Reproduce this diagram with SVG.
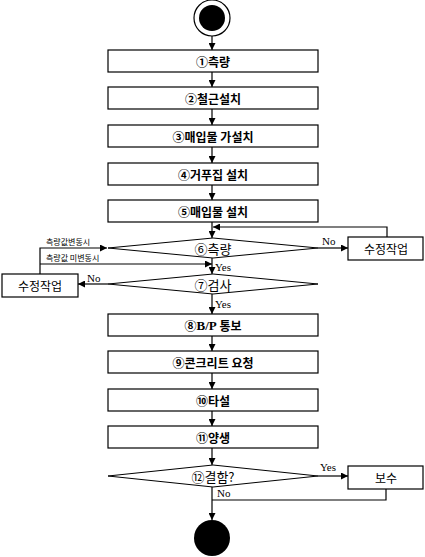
<svg xmlns="http://www.w3.org/2000/svg" width="425" height="557" viewBox="0 0 425 557">
<style>
.box{fill:#fff;stroke:#000;stroke-width:1.2}
.dia{fill:#fff;stroke:#000;stroke-width:1}
.t{font-family:"Noto Sans CJK KR","Noto Sans",sans-serif;font-size:12px;font-weight:bold;text-anchor:middle;dominant-baseline:central;fill:#000}
.td{font-family:"Noto Sans CJK KR","Noto Sans",sans-serif;font-size:13px;text-anchor:middle;dominant-baseline:central;fill:#000}
.ts{font-family:"Noto Sans CJK KR","Noto Sans",sans-serif;font-size:12px;text-anchor:middle;dominant-baseline:central;fill:#000}
.tl{font-family:"Noto Sans CJK KR","Noto Sans",sans-serif;font-size:8px;fill:#000}
.yn{font-family:"Liberation Serif","Times New Roman",serif;font-size:11px;fill:#000}
.ser{font-family:"Liberation Serif","Times New Roman",serif;font-size:13px}
.c{fill:none;stroke:#000;stroke-width:1.2}
</style>
<defs>
<marker id="ah" viewBox="0 0 10 10" refX="10" refY="5" markerWidth="7" markerHeight="7" markerUnits="userSpaceOnUse" orient="auto">
<path d="M0,0 L10,5 L0,10 z" fill="#000"/>
</marker>
</defs>
<g id="start"><circle cx="212" cy="18" r="18" fill="#fff" stroke="#000" stroke-width="1.2"/><circle cx="212" cy="18" r="13" fill="#000"/></g>
<g id="n1"><rect class="box" x="108" y="50" width="210" height="22"/><text class="t" x="213" y="61">①측량</text></g>
<g id="n2"><rect class="box" x="108" y="87" width="210" height="22"/><text class="t" x="213" y="98">②철근설치</text></g>
<g id="n3"><rect class="box" x="108" y="125" width="210" height="22"/><text class="t" x="213" y="136">③매입물 가설치</text></g>
<g id="n4"><rect class="box" x="108" y="163" width="210" height="22"/><text class="t" x="213" y="174">④거푸집 설치</text></g>
<g id="n5"><rect class="box" x="108" y="200" width="210" height="22"/><text class="t" x="213" y="211">⑤매입물 설치</text></g>
<g id="d6"><polygon class="dia" points="108,248 213,238 318,248 213,258"/><text class="td" x="213" y="248">⑥측량</text></g>
<g id="r1"><rect class="box" x="348" y="237" width="75" height="23"/><text class="ts" x="386" y="248.5">수정작업</text></g>
<g id="d7"><polygon class="dia" points="108,284 213,274 318,284 213,294"/><text class="td" x="213" y="284">⑦검사</text></g>
<g id="l1"><rect class="box" x="2" y="274" width="76" height="23"/><text class="ts" x="40" y="285.5">수정작업</text></g>
<g id="n8"><rect class="box" x="108" y="314" width="210" height="22"/><text class="t" x="213" y="325">⑧<tspan class="ser">B/P</tspan> 통보</text></g>
<g id="n9"><rect class="box" x="108" y="351" width="210" height="22"/><text class="t" x="213" y="362">⑨콘크리트 요청</text></g>
<g id="n10"><rect class="box" x="108" y="389" width="210" height="22"/><text class="t" x="213" y="400">⑩타설</text></g>
<g id="n11"><rect class="box" x="108" y="426" width="210" height="22"/><text class="t" x="213" y="437">⑪양생</text></g>
<g id="d12"><polygon class="dia" points="108,476 213,465 318,476 213,487"/><text class="td" x="213" y="476">⑫결함?</text></g>
<g id="fix"><rect class="box" x="348" y="466" width="75" height="23"/><text class="ts" x="386" y="477.5">보수</text></g>
<g id="end"><circle cx="212" cy="538" r="18" fill="#000"/></g>
<g id="connectors">
<line class="c" x1="212" y1="36" x2="212" y2="50" marker-end="url(#ah)"/>
<line class="c" x1="212" y1="72" x2="212" y2="87" marker-end="url(#ah)"/>
<line class="c" x1="212" y1="109" x2="212" y2="125" marker-end="url(#ah)"/>
<line class="c" x1="212" y1="147" x2="212" y2="163" marker-end="url(#ah)"/>
<line class="c" x1="212" y1="185" x2="212" y2="200" marker-end="url(#ah)"/>
<line class="c" x1="212" y1="222" x2="212" y2="238" marker-end="url(#ah)"/>
<polyline class="c" points="387,237 387,227 213,227" marker-end="url(#ah)"/>
<line class="c" x1="318" y1="248" x2="348" y2="248" marker-end="url(#ah)"/>
<text class="yn" x="322" y="245">No</text>
<line class="c" x1="212" y1="258" x2="212" y2="274" marker-end="url(#ah)"/>
<text class="yn" x="215" y="271">Yes</text>
<polyline class="c" points="40,274 40,248 107,248" marker-end="url(#ah)"/>
<text class="tl" x="46" y="245">측량값변동시</text>
<line class="c" x1="40" y1="264" x2="212" y2="264" marker-end="url(#ah)"/>
<text class="tl" x="46" y="261">측량값 미변동시</text>
<line class="c" x1="108" y1="284" x2="78" y2="284" marker-end="url(#ah)"/>
<text class="yn" x="87" y="282">No</text>
<line class="c" x1="212" y1="294" x2="212" y2="314" marker-end="url(#ah)"/>
<text class="yn" x="215" y="308">Yes</text>
<line class="c" x1="212" y1="336" x2="212" y2="351" marker-end="url(#ah)"/>
<line class="c" x1="212" y1="373" x2="212" y2="389" marker-end="url(#ah)"/>
<line class="c" x1="212" y1="411" x2="212" y2="426" marker-end="url(#ah)"/>
<line class="c" x1="212" y1="448" x2="212" y2="465" marker-end="url(#ah)"/>
<line class="c" x1="318" y1="476" x2="348" y2="476" marker-end="url(#ah)"/>
<text class="yn" x="320" y="471">Yes</text>
<polyline class="c" points="386,489 386,500 212,500"/>
<text class="yn" x="217" y="497">No</text>
<line class="c" x1="212" y1="487" x2="212" y2="520" marker-end="url(#ah)"/>
</g>
</svg>
